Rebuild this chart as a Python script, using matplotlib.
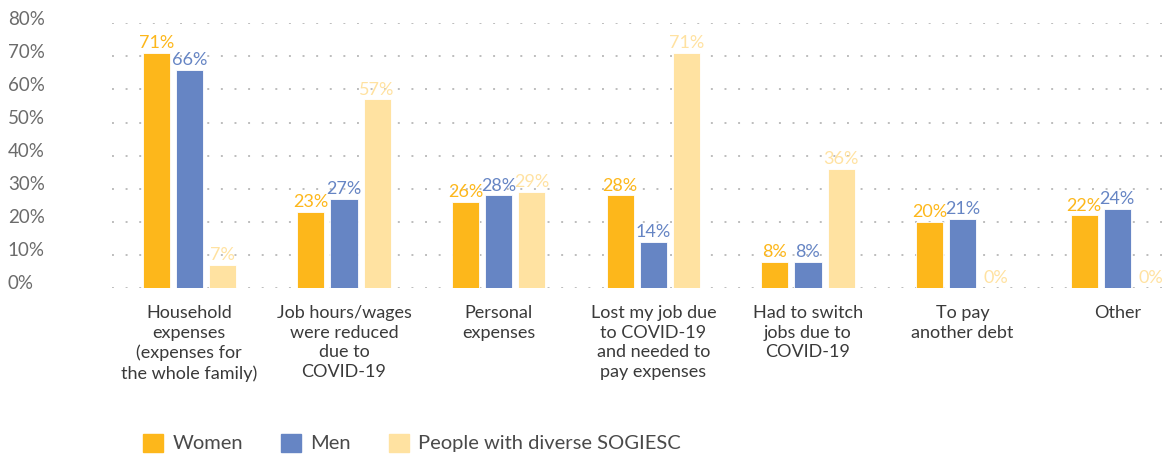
import numpy as np
import matplotlib.pyplot as plt
from matplotlib.patches import Patch
from matplotlib.transforms import ScaledTranslation

# reasons for borrowing, share of respondents (%)
categories = ['Household\nexpenses\n(expenses for\nthe whole family)',
              'Job hours/wages\nwere reduced\ndue to\nCOVID-19',
              'Personal\nexpenses',
              'Lost my job due\nto COVID-19\nand needed to\npay expenses',
              'Had to switch\njobs due to\nCOVID-19',
              'To pay\nanother debt',
              'Other']
women = [71, 23, 26, 28, 8, 20, 22]
men = [66, 27, 28, 14, 8, 21, 24]
diverse = [7, 57, 29, 71, 36, 0, 0]
series_names = ['Women', 'Men', 'People with diverse SOGIESC']

col_women = '#FDB71B'
col_men = '#6685C4'
col_div = '#FFE2A1'
grey = '#6b6b6b'

plt.rcParams['font.family'] = ['Lato', 'DejaVu Sans']

fig = plt.figure(figsize=(11.73, 4.55), dpi=100)
ax = fig.add_axes([0.0955, 0.367, 0.9045, 0.582])

x = np.arange(len(categories))
w = 0.175
off = 0.214

for vals, dx, col in [(women, -off, col_women), (men, 0, col_men), (diverse, off, col_div)]:
    ax.bar(x + dx, vals, width=w, color=col, edgecolor='white', linewidth=0.6, zorder=3)
    for xi, v in zip(x + dx, vals):
        ax.text(xi, v + 0.5, f'{v}%', ha='center', va='bottom', fontsize=13, color=col, zorder=4)

ax.set_xlim(-0.5, 6.36)
ax.set_ylim(0, 80)
ax.set_yticks(np.arange(0, 81, 10))
ax.set_yticklabels([f'{t}%' for t in range(0, 81, 10)], fontsize=13.5, color=grey)
ax.yaxis.grid(True, linestyle=(0, (1, 6)), color='#bdbdbd', linewidth=1.4, zorder=0)
ax.set_axisbelow(True)
ax.tick_params(axis='y', length=0, pad=75)
lift = ScaledTranslation(0, 4 / 72, fig.dpi_scale_trans)
for lab in ax.get_yticklabels():
    lab.set_horizontalalignment('left')
    lab.set_transform(lab.get_transform() + lift)
ax.set_xticks(x)
ax.set_xticklabels(categories, fontsize=13, color='#3a3a3a', linespacing=1.3, va='top')
ax.tick_params(axis='x', length=0, pad=12)
for s in ax.spines.values():
    s.set_visible(False)

handles = [Patch(color=c) for c in (col_women, col_men, col_div)]
leg = fig.legend(handles, series_names, loc='center left', bbox_to_anchor=(143 / 1173, 1 - 443 / 455),
                 ncol=3, frameon=False, fontsize=14.5, handlelength=1.0, handleheight=1.0,
                 columnspacing=1.9, handletextpad=0.45, borderpad=0, borderaxespad=0)
for t in leg.get_texts():
    t.set_color('#4a4a4a')

fig.savefig('out.png', dpi=100)
